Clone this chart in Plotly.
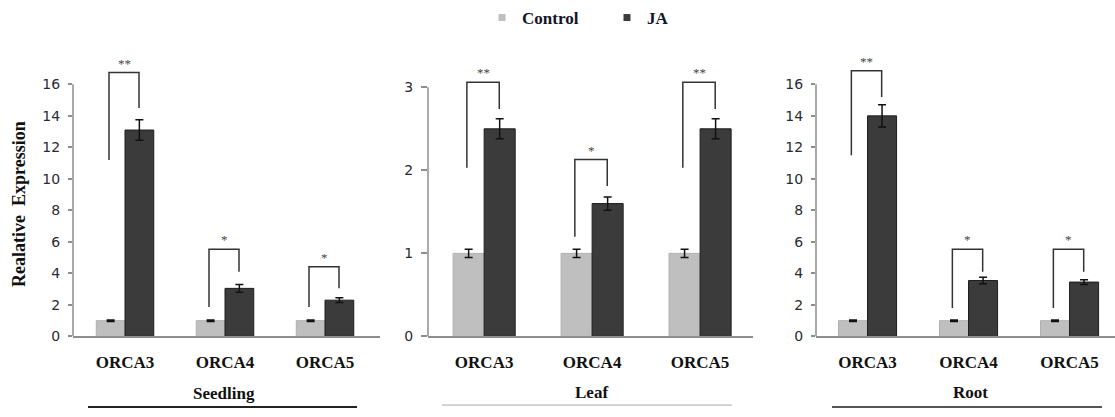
import plotly.graph_objects as go

genes = ["ORCA3", "ORCA4", "ORCA5"]
tissues = ["Seedling", "Leaf", "Root"]

control_vals = {"Seedling": [1.0, 1.0, 1.0], "Leaf": [1.0, 1.0, 1.0], "Root": [1.0, 1.0, 1.0]}
control_err = {"Seedling": [0.05, 0.05, 0.05], "Leaf": [0.05, 0.05, 0.05], "Root": [0.05, 0.05, 0.05]}
ja_vals = {"Seedling": [13.1, 3.05, 2.3], "Leaf": [2.5, 1.6, 2.5], "Root": [14.0, 3.55, 3.45]}
ja_err = {"Seedling": [0.65, 0.25, 0.15], "Leaf": [0.12, 0.08, 0.12], "Root": [0.7, 0.2, 0.15]}

# significance brackets (data units)
sig_labels = {"Seedling": ["**", "*", "*"], "Leaf": ["**", "*", "**"], "Root": ["**", "*", "*"]}
br_left = {"Seedling": [11.2, 1.87, 1.87], "Leaf": [2.03, 1.2, 2.03], "Root": [11.5, 1.8, 1.8]}
br_top = {"Seedling": [16.75, 5.54, 4.42], "Leaf": [3.06, 2.13, 3.06], "Root": [16.87, 5.54, 5.54]}
br_right = {"Seedling": [14.5, 4.1, 3.05], "Leaf": [2.74, 1.81, 2.74], "Root": [15.2, 4.1, 4.1]}

y_ticks = {"Seedling": [0, 2, 4, 6, 8, 10, 12, 14, 16], "Leaf": [0, 1, 2, 3], "Root": [0, 2, 4, 6, 8, 10, 12, 14, 16]}
y_max = {"Seedling": 16, "Leaf": 3, "Root": 16}

W, H = 1115, 417
# layout (pixels)
x_dom_px = {"Seedling": (73, 380), "Leaf": (428, 753), "Root": (816, 1115)}
x_rng = {"Seedling": [-0.52, 2.55], "Leaf": [-0.52, 2.49], "Root": [-0.51, 2.45]}
y_bottom_px = 343
y_top_px = {"Seedling": 86, "Leaf": 89, "Root": 86}
y_rng_top = {"Seedling": 18, "Leaf": 3.3, "Root": 18}
ticklen = {"Seedling": 4, "Leaf": 6, "Root": 4}

C_CTRL = "#bfbfbf"
C_JA = "#3b3b3b"
AX_COL = "#8e8e8e"
SERIF = "Liberation Serif"

fig = go.Figure()
shapes = []
annotations = []

for i, t in enumerate(tissues):
    sfx = "" if i == 0 else str(i + 1)
    xa, ya = "x" + sfx, "y" + sfx
    fig.add_trace(go.Bar(x=genes, y=control_vals[t], name="Control", xaxis=xa, yaxis=ya,
                         marker=dict(color=C_CTRL, line=dict(color="#b0b0b0", width=1)),
                         error_y=dict(type="data", array=control_err[t], color="#111", thickness=1.5, width=4),
                         showlegend=False))
    fig.add_trace(go.Bar(x=genes, y=ja_vals[t], name="JA", xaxis=xa, yaxis=ya,
                         marker=dict(color=C_JA, line=dict(color="#1e1e1e", width=1)),
                         error_y=dict(type="data", array=ja_err[t], color="#111", thickness=1.5, width=4),
                         showlegend=False))
    x0p, x1p = x_dom_px[t]
    pxu = (y_bottom_px - y_top_px[t]) / y_max[t]
    top_px = y_bottom_px - pxu * y_rng_top[t]
    fig.layout["xaxis" + sfx] = dict(domain=[x0p / W, x1p / W], anchor=ya, type="category",
                                     range=x_rng[t], showline=True, linecolor=AX_COL, linewidth=1.5,
                                     ticks="", showgrid=False, zeroline=False, ticklabelstandoff=9,
                                     tickfont=dict(family=SERIF, size=17, color="#111", weight="bold"))
    fig.layout["yaxis" + sfx] = dict(domain=[(H - y_bottom_px) / H, (H - top_px) / H], anchor=xa,
                                     range=[0, y_rng_top[t]], tickvals=y_ticks[t], showline=False,
                                     ticks="outside", ticklen=ticklen[t], tickcolor=AX_COL, tickwidth=1.5,
                                     showgrid=False, zeroline=False, ticklabelstandoff=5,
                                     tickfont=dict(family="DejaVu Sans", size=14, color="#2a2a34"))
    # y axis line up to top tick
    shapes.append(dict(type="line", xref=xa + " domain", yref=ya, x0=0, x1=0, y0=0, y1=y_max[t],
                       line=dict(color=AX_COL, width=1.5)))
    # significance brackets
    for j, g in enumerate(genes):
        xl, xr = j - 0.16, j + 0.14
        path = f"M {xl},{br_left[t][j]} L {xl},{br_top[t][j]} L {xr},{br_top[t][j]} L {xr},{br_right[t][j]}"
        shapes.append(dict(type="path", xref=xa, yref=ya, path=path,
                           line=dict(color="#333", width=1.5)))
        annotations.append(dict(xref=xa, yref=ya, x=j - 0.01, y=br_top[t][j], text=sig_labels[t][j],
                                showarrow=False, yanchor="bottom", yshift=0,
                                font=dict(family=SERIF, size=13, color="#444")))

# tissue labels and underlines
tissue_lbl_px = {"Seedling": (224, 401), "Leaf": (591, 400), "Root": (970, 400)}
underline_px = {"Seedling": (88, 357, 415, "#222", 2), "Leaf": (442, 732, 413, "#aaa", 1),
                "Root": (832, 1102, 415, "#555", 2)}
for t in tissues:
    cx, cy = tissue_lbl_px[t]
    annotations.append(dict(xref="paper", yref="paper", x=cx / W, y=(H - cy) / H, text=t, showarrow=False,
                            xanchor="center", yanchor="middle",
                            font=dict(family=SERIF, size=17, color="#111", weight="bold")))
    ux0, ux1, uy, uc, uw = underline_px[t]
    shapes.append(dict(type="line", xref="paper", yref="paper", x0=ux0 / W, x1=ux1 / W,
                       y0=(H - uy) / H, y1=(H - uy) / H, line=dict(color=uc, width=uw)))

# y-axis title
annotations.append(dict(xref="paper", yref="paper", x=19 / W, y=(H - 208) / H, text="Realative  Expression",
                        textangle=-90, showarrow=False, xanchor="center", yanchor="middle",
                        font=dict(family=SERIF, size=18, color="#111", weight="bold")))

# legend entries
fig.add_trace(go.Scatter(x=[None], y=[None], mode="markers", name="Control",
                         marker=dict(symbol="square", size=7, color=C_CTRL), xaxis="x", yaxis="y"))
fig.add_trace(go.Scatter(x=[None], y=[None], mode="markers", name="JA",
                         marker=dict(symbol="square", size=7, color=C_JA), xaxis="x", yaxis="y"))

fig.update_layout(
    width=W, height=H, margin=dict(l=0, r=0, t=0, b=0),
    paper_bgcolor="white", plot_bgcolor="white",
    barmode="group", bargap=0.425, bargroupgap=0,
    shapes=shapes, annotations=annotations,
    legend=dict(orientation="h", x=482 / W, y=1.0, xanchor="left", yanchor="top",
                entrywidth=80, entrywidthmode="pixels",
                font=dict(family=SERIF, size=17, color="#14142a", weight="bold"),
                bgcolor="rgba(0,0,0,0)"),
)

fig.write_html("out.html")
